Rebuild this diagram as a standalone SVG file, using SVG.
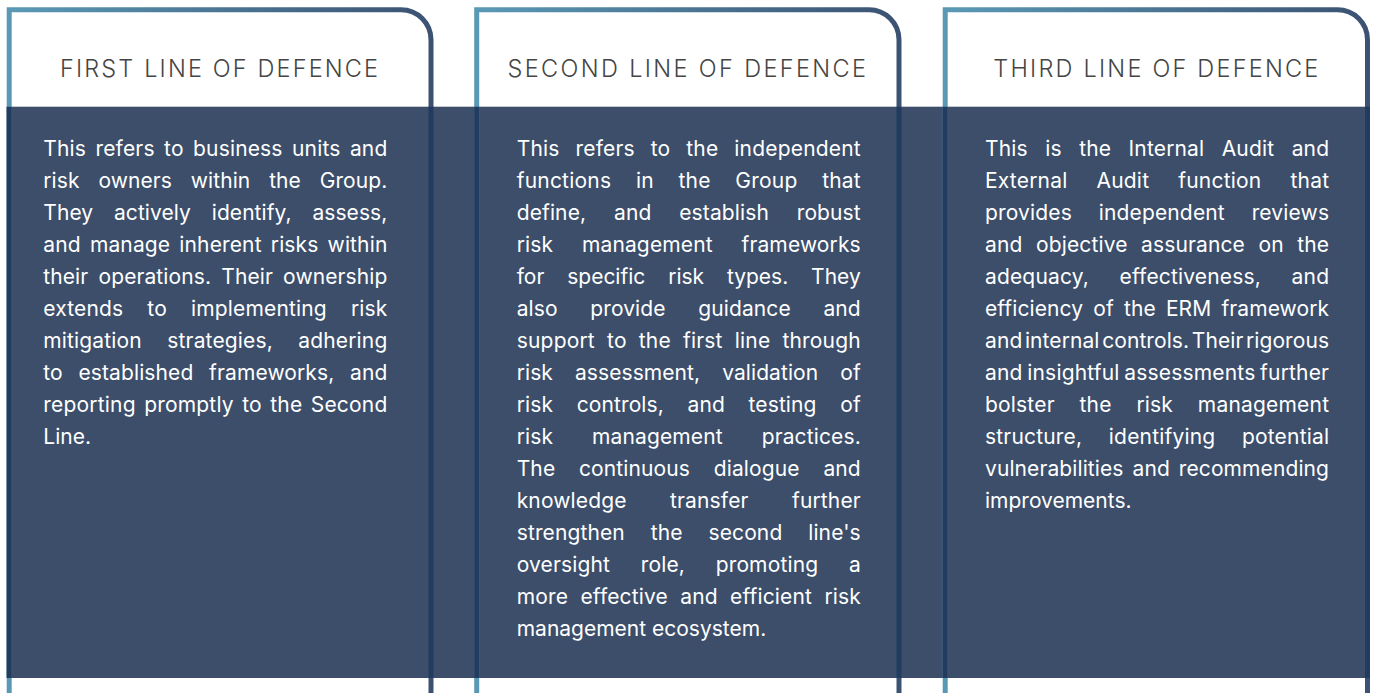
<svg xmlns="http://www.w3.org/2000/svg" width="1373" height="693" viewBox="0 0 1373 693">
<style>
.border{fill:none;stroke:url(#edge);stroke-width:5}
.inband{fill:none;stroke:#213c5e;stroke-width:5}
.title{font-family:Inter,"Liberation Sans",sans-serif;font-weight:300;font-size:23.5px;fill:#454545}
.body{font-family:Inter,"Liberation Sans",sans-serif;font-weight:400;font-size:21px;fill:#ffffff}
</style>
<defs>
<linearGradient id="edge" x1="0" y1="0" x2="1" y2="0">
<stop offset="0" stop-color="#5a99b5"/>
<stop offset="1" stop-color="#3c5272"/>
</linearGradient>
</defs>
<rect width="1373" height="693" fill="#ffffff"/>
<rect id="band" x="6.7" y="106.7" width="1363.3" height="571.3" fill="#3c4e6a"/>

<g id="card-1">
<path class="border" d="M9.2,693 V9.7 H401 A30,30 0 0 1 431,39.7 V693"/>
<path class="inband" d="M9.2,106.7 V678 M431,106.7 V678"/>
<text class="title" x="60" y="76.5" textLength="318" lengthAdjust="spacing">FIRST LINE OF DEFENCE</text>
<g class="body">
<text x="43.3" y="156" textLength="344" lengthAdjust="spacing" word-spacing="3.4">This refers to business units and</text>
<text x="43.3" y="188" textLength="344" lengthAdjust="spacing" word-spacing="12.8">risk owners within the Group.</text>
<text x="43.3" y="220" textLength="344" lengthAdjust="spacing" word-spacing="14.8">They actively identify, assess,</text>
<text x="43.3" y="252" textLength="344" lengthAdjust="spacing" word-spacing="3.1">and manage inherent risks within</text>
<text x="43.3" y="284" textLength="344" lengthAdjust="spacing" word-spacing="4.2">their operations. Their ownership</text>
<text x="43.3" y="316" textLength="344" lengthAdjust="spacing" word-spacing="18">extends to implementing risk</text>
<text x="43.3" y="348" textLength="344" lengthAdjust="spacing" word-spacing="19.4">mitigation strategies, adhering</text>
<text x="43.3" y="380" textLength="344" lengthAdjust="spacing" word-spacing="9.6">to established frameworks, and</text>
<text x="43.3" y="412" textLength="344" lengthAdjust="spacing" word-spacing="2.3">reporting promptly to the Second</text>
<text x="43.3" y="444">Line.</text>
</g>
</g>

<g id="card-2">
<path class="border" d="M476.7,693 V9.7 H869 A30,30 0 0 1 899,39.7 V693"/>
<path class="inband" d="M476.7,106.7 V678 M899,106.7 V678"/>
<text class="title" x="507.5" y="76.5" textLength="358.5" lengthAdjust="spacing">SECOND LINE OF DEFENCE</text>
<g class="body">
<text x="516.7" y="156" textLength="344" lengthAdjust="spacing" word-spacing="9.8">This refers to the independent</text>
<text x="516.7" y="188" textLength="344" lengthAdjust="spacing" word-spacing="18.6">functions in the Group that</text>
<text x="516.7" y="220" textLength="344" lengthAdjust="spacing" word-spacing="21.8">define, and establish robust</text>
<text x="516.7" y="252" textLength="344" lengthAdjust="spacing" word-spacing="22.7">risk management frameworks</text>
<text x="516.7" y="284" textLength="344" lengthAdjust="spacing" word-spacing="16.9">for specific risk types. They</text>
<text x="516.7" y="316" textLength="344" lengthAdjust="spacing" word-spacing="26.7">also provide guidance and</text>
<text x="516.7" y="348" textLength="344" lengthAdjust="spacing" word-spacing="6">support to the first line through</text>
<text x="516.7" y="380" textLength="344" lengthAdjust="spacing" word-spacing="16.1">risk assessment, validation of</text>
<text x="516.7" y="412" textLength="344" lengthAdjust="spacing" word-spacing="17.7">risk controls, and testing of</text>
<text x="516.7" y="444" textLength="344" lengthAdjust="spacing" word-spacing="32.9">risk management practices.</text>
<text x="516.7" y="476" textLength="344" lengthAdjust="spacing" word-spacing="17.7">The continuous dialogue and</text>
<text x="516.7" y="508" textLength="344" lengthAdjust="spacing" word-spacing="37.4">knowledge transfer further</text>
<text x="516.7" y="540" textLength="344" lengthAdjust="spacing" word-spacing="19.8">strengthen the second line's</text>
<text x="516.7" y="572" textLength="344" lengthAdjust="spacing" word-spacing="24.6">oversight role, promoting a</text>
<text x="516.7" y="604" textLength="344" lengthAdjust="spacing" word-spacing="6.4">more effective and efficient risk</text>
<text x="516.7" y="636">management ecosystem.</text>
</g>
</g>

<g id="card-3">
<path class="border" d="M945.2,693 V9.7 H1337.5 A30,30 0 0 1 1367.5,39.7 V693"/>
<path class="inband" d="M945.2,106.7 V678 M1367.5,106.7 V678"/>
<text class="title" x="993.3" y="76.5" textLength="325" lengthAdjust="spacing">THIRD LINE OF DEFENCE</text>
<g class="body">
<text x="985" y="156" textLength="344" lengthAdjust="spacing" word-spacing="11.4">This is the Internal Audit and</text>
<text x="985" y="188" textLength="344" lengthAdjust="spacing" word-spacing="23">External Audit function that</text>
<text x="985" y="220" textLength="344" lengthAdjust="spacing" word-spacing="20.7">provides independent reviews</text>
<text x="985" y="252" textLength="344" lengthAdjust="spacing" word-spacing="7.4">and objective assurance on the</text>
<text x="985" y="284" textLength="344" lengthAdjust="spacing" word-spacing="24.6">adequacy, effectiveness, and</text>
<text x="985" y="316" textLength="344" lengthAdjust="spacing" word-spacing="4.2">efficiency of the ERM framework</text>
<text x="985" y="348" textLength="344" lengthAdjust="spacing" word-spacing="-3.4">and internal controls. Their rigorous</text>
<text x="985" y="380" textLength="344" lengthAdjust="spacing" word-spacing="-1.4">and insightful assessments further</text>
<text x="985" y="412" textLength="344" lengthAdjust="spacing" word-spacing="18.7">bolster the risk management</text>
<text x="985" y="444" textLength="344" lengthAdjust="spacing" word-spacing="20.6">structure, identifying potential</text>
<text x="985" y="476" textLength="344" lengthAdjust="spacing" word-spacing="3">vulnerabilities and recommending</text>
<text x="985" y="508">improvements.</text>
</g>
</g>
</svg>
